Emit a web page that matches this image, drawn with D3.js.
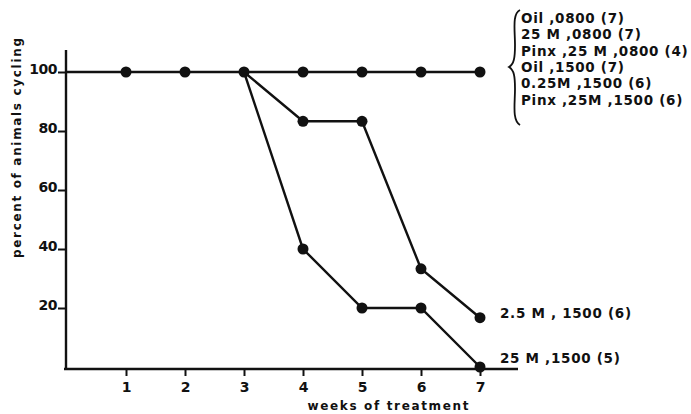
<!DOCTYPE html>
<html>
<head>
<meta charset="utf-8">
<script src="https://cdn.jsdelivr.net/npm/d3@7"></script>
<style>
  html, body { margin: 0; padding: 0; background: #fff; }
  svg text { font-family: "DejaVu Sans", sans-serif; font-weight: bold; fill: #111; }
</style>
</head>
<body>
<svg id="chart" width="691" height="414"></svg>
<script>
// Weeks of treatment and percent of animals still cycling
const weeks = [1, 2, 3, 4, 5, 6, 7];
const controlValues = [100, 100, 100, 100, 100, 100, 100];
const lowDoseWeeks = [3, 4, 5, 6, 7];
const lowDoseValues = [100, 83.3, 83.3, 33.3, 16.7];   // 2.5 M, 1500 (n = 6)
const highDoseWeeks = [3, 4, 5, 6, 7];
const highDoseValues = [100, 40, 20, 20, 0];            // 25 M, 1500 (n = 5)

const controlGroups = [
  "Oil ,0800 (7)",
  "25 M ,0800 (7)",
  "Pinx ,25 M ,0800 (4)",
  "Oil ,1500 (7)",
  "0.25M ,1500 (6)",
  "Pinx ,25M ,1500 (6)"
];
const lowDoseLabel = "2.5 M , 1500 (6)";
const highDoseLabel = "25 M ,1500 (5)";
const yTicks = [20, 40, 60, 80, 100];
const xTicks = [1, 2, 3, 4, 5, 6, 7];

const svg = d3.select("#chart");
const ink = "#111";
const font = "DejaVu Sans";

const x = d3.scaleLinear().domain([0, 7]).range([67, 480]);
const y = d3.scaleLinear().domain([0, 100]).range([367, 72]);

// axes
const xAxis = d3.axisBottom(x).tickValues(xTicks).tickSize(7).tickFormat(d3.format("d"));
const gx = svg.append("g").attr("transform", "translate(0,369)").call(xAxis);
gx.select(".domain").attr("d", "M64,0H518").attr("stroke", ink).attr("stroke-width", 2.4);
gx.selectAll(".tick line").attr("stroke", ink).attr("stroke-width", 2);
gx.selectAll(".tick text").attr("y", 13).attr("font-size", 14)
  .attr("font-family", font).attr("font-weight", "bold").attr("fill", ink);

const yAxis = d3.axisLeft(y).tickValues(yTicks).tickSize(8).tickFormat(d3.format("d"));
const gy = svg.append("g").attr("transform", "translate(66,0)").call(yAxis);
gy.select(".domain").attr("d", "M0,50V370").attr("stroke", ink).attr("stroke-width", 2.4);
gy.selectAll(".tick line").attr("stroke", ink).attr("stroke-width", 2);
gy.selectAll(".tick text").attr("x", -9).attr("dy", "0").attr("y", 1)
  .attr("font-size", 14).attr("letter-spacing", -0.5)
  .attr("font-family", font).attr("font-weight", "bold").attr("fill", ink);

// axis titles
svg.append("text")
  .attr("transform", "translate(21,148) rotate(-90)")
  .attr("text-anchor", "middle")
  .attr("font-size", 12)
  .attr("textLength", 220)
  .attr("lengthAdjust", "spacing")
  .text("percent of animals cycling");

svg.append("text")
  .attr("x", 388).attr("y", 410)
  .attr("text-anchor", "middle")
  .attr("font-size", 12)
  .attr("textLength", 161)
  .attr("lengthAdjust", "spacing")
  .text("weeks of treatment");

// series lines
const line = d3.line().x(d => x(d[0])).y(d => y(d[1]));
const controlPts = [[0, 100]].concat(weeks.map((w, i) => [w, controlValues[i]]));
const lowPts = lowDoseWeeks.map((w, i) => [w, lowDoseValues[i]]);
const highPts = highDoseWeeks.map((w, i) => [w, highDoseValues[i]]);

[controlPts, lowPts, highPts].forEach(pts => {
  svg.append("path").attr("d", line(pts))
    .attr("fill", "none").attr("stroke", ink).attr("stroke-width", 2.4);
});

// markers
const allMarks = weeks.map((w, i) => [w, controlValues[i]])
  .concat(lowPts.slice(1), highPts.slice(1));
svg.append("g").selectAll("circle").data(allMarks).join("circle")
  .attr("cx", d => x(d[0])).attr("cy", d => y(d[1])).attr("r", 5.5).attr("fill", ink);

// group labels
const legendG = svg.append("g");
legendG.append("path")
  .attr("d", "M520,10 C512,14 515,30 515,45 C515,58 514,64 509,67 C514,70 515,76 515,89 C515,104 512,120 520,125")
  .attr("fill", "none").attr("stroke", ink).attr("stroke-width", 1.8);
legendG.selectAll("text").data(controlGroups).join("text")
  .attr("x", 521).attr("y", (d, i) => 23 + i * 16.3)
  .attr("font-size", 13.5)
  .attr("letter-spacing", 0.7)
  .text(d => d);

svg.append("text").attr("x", 500).attr("y", 318)
  .attr("font-size", 13.5).attr("letter-spacing", 0.7).text(lowDoseLabel);
svg.append("text").attr("x", 500).attr("y", 363)
  .attr("font-size", 13.5).attr("letter-spacing", 0.7).text(highDoseLabel);
</script>
</body>
</html>
